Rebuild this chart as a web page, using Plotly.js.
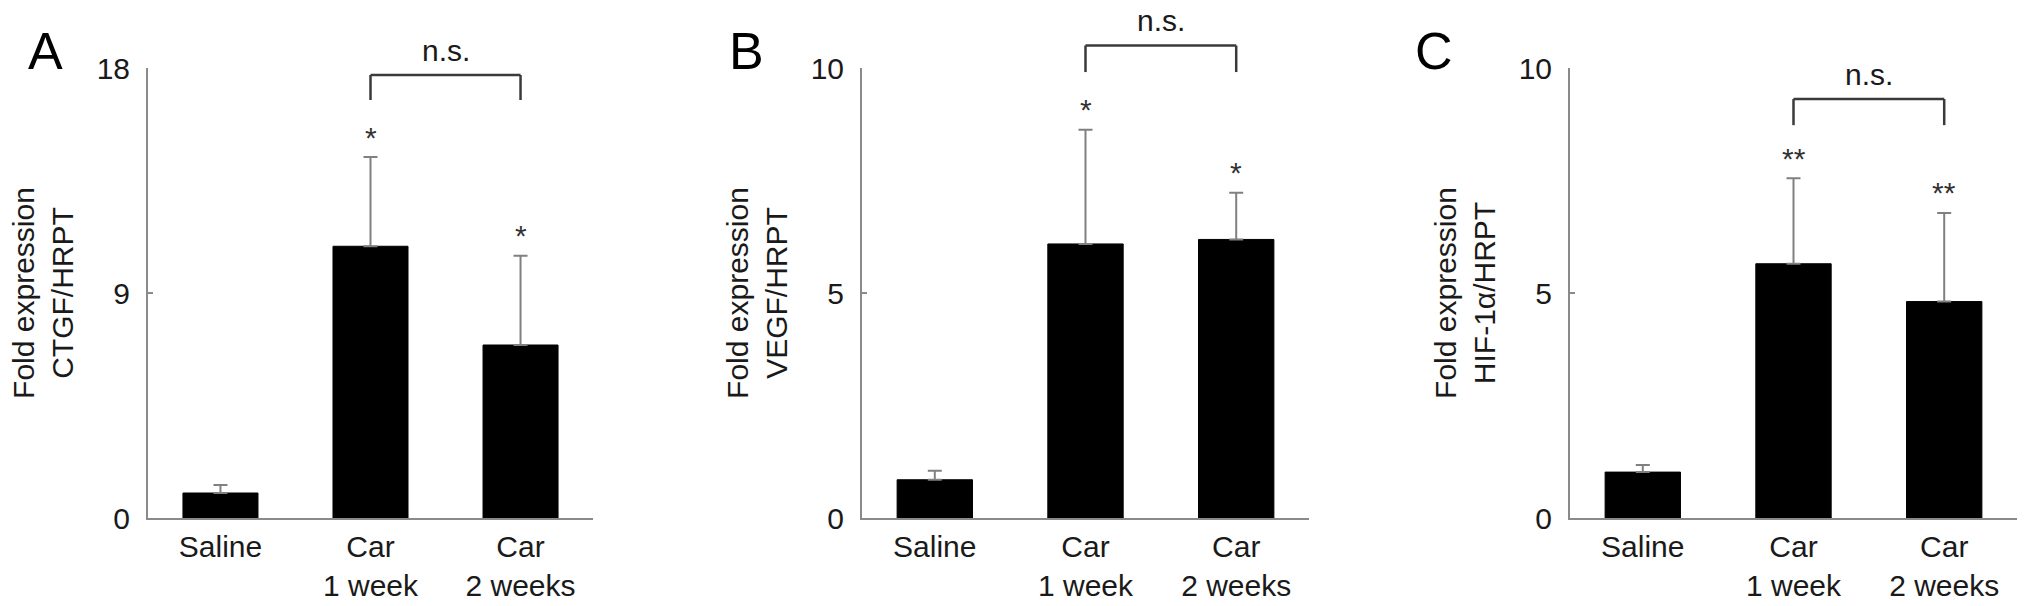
<!DOCTYPE html>
<html>
<head>
<meta charset="utf-8">
<script src="https://cdn.plot.ly/plotly-3.0.1.min.js"></script>
<style>
  html, body { margin: 0; padding: 0; background: #fff; }
  #chart { width: 2031px; height: 606px; }
</style>
</head>
<body>
<div id="chart"></div>
<script>
// groups on the x axis
var categories = ['Saline', 'Car<br>1 week', 'Car<br>2 weeks'];

// fold expression (mean) and upper error
var ctgfMean = [1.00, 10.87, 6.92];
var ctgfErr  = [0.32, 3.57, 3.57];
var vegfMean = [0.85, 6.09, 6.19];
var vegfErr  = [0.20, 2.54, 1.04];
var hifMean  = [1.02, 5.65, 4.81];
var hifErr   = [0.16, 1.90, 1.97];

// significance marks above each bar
var ctgfStars = ['', '*', '*'];
var vegfStars = ['', '*', '*'];
var hifStars  = ['', '**', '**'];

var panelLetters = ['A', 'B', 'C'];
var yTitles = ['Fold expression<br>CTGF/HRPT', 'Fold expression<br>VEGF/HRPT', 'Fold expression<br>HIF-1α/HRPT'];
var yMax = [18, 10, 10];
var yTickVals = [[0, 9, 18], [0, 5, 10], [0, 5, 10]];

// "n.s." bracket between Car 1 week and Car 2 weeks
var bracketTop = [17.72, 10.50, 9.31];
var bracketLow = [16.72, 9.91, 8.73];
var bracketLabel = 'n.s.';

var FONT = 'Liberation Sans, Arial, Helvetica, sans-serif';
var TXT = '#1a1a1a';
var AXC = '#8a8a8a';

var means = [ctgfMean, vegfMean, hifMean];
var errs = [ctgfErr, vegfErr, hifErr];
var stars = [ctgfStars, vegfStars, hifStars];

// plot areas in px (page is 2031 x 606)
var W = 2031, H = 606;
var xDomPx = [[148, 593], [862, 1309], [1570, 2017]];
var yDomPx = [68, 518];
var letterPos = [[45, 51], [746, 51], [1434, 51]];

var traces = [];
var layout = {
  width: W,
  height: H,
  margin: { l: 0, r: 0, t: 0, b: 0 },
  paper_bgcolor: '#fff',
  plot_bgcolor: '#fff',
  showlegend: false,
  bargap: 0.5,
  font: { family: FONT, size: 30, color: TXT },
  shapes: [],
  annotations: []
};

for (var i = 0; i < 3; i++) {
  var sfx = i === 0 ? '' : String(i + 1);
  var xa = 'x' + sfx, ya = 'y' + sfx;

  traces.push({
    type: 'bar',
    x: categories,
    y: means[i],
    xaxis: xa,
    yaxis: ya,
    marker: { color: '#000', line: { color: '#000', width: 1 } },
    error_y: {
      type: 'data',
      symmetric: false,
      array: errs[i],
      arrayminus: [0, 0, 0],
      color: '#808080',
      thickness: 2,
      width: 7
    },
    hoverinfo: 'x+y'
  });

  layout['xaxis' + sfx] = {
    domain: [xDomPx[i][0] / W, xDomPx[i][1] / W],
    anchor: ya,
    type: 'category',
    range: [-0.483, 2.483],
    showline: true,
    linecolor: AXC,
    linewidth: 2,
    ticks: '',
    showgrid: false,
    zeroline: false,
    ticklabelstandoff: 1,
    tickfont: { family: FONT, size: 30, color: TXT }
  };
  layout['yaxis' + sfx] = {
    domain: [(H - yDomPx[1]) / H, (H - yDomPx[0]) / H],
    anchor: xa,
    range: [0, yMax[i]],
    showline: true,
    linecolor: AXC,
    linewidth: 2,
    ticks: 'inside',
    ticklen: 5,
    tickwidth: 2,
    tickcolor: AXC,
    tickvals: yTickVals[i],
    showgrid: false,
    zeroline: false,
    ticklabelstandoff: 10,
    tickfont: { family: FONT, size: 30, color: TXT },
    title: { text: yTitles[i], standoff: 14, font: { family: FONT, size: 30, color: TXT } }
  };

  // bracket and label (y as a fraction of the axis so they may rise above the top tick)
  var yt = bracketTop[i] / yMax[i], yl = bracketLow[i] / yMax[i];
  var bl = { color: '#3a3a3a', width: 2.5 };
  layout.shapes.push(
    { type: 'line', xref: xa, yref: ya + ' domain', x0: 1, x1: 1, y0: yl, y1: yt, line: bl },
    { type: 'line', xref: xa, yref: ya + ' domain', x0: 1, x1: 2, y0: yt, y1: yt, line: bl },
    { type: 'line', xref: xa, yref: ya + ' domain', x0: 2, x1: 2, y0: yt, y1: yl, line: bl }
  );
  layout.annotations.push({
    xref: xa, yref: ya + ' domain', x: 1.5, y: yt,
    text: bracketLabel, showarrow: false, yanchor: 'bottom', yshift: 6,
    font: { family: FONT, size: 30, color: TXT }
  });

  for (var k = 0; k < categories.length; k++) {
    if (!stars[i][k]) continue;
    layout.annotations.push({
      xref: xa, yref: ya, x: k, y: means[i][k] + errs[i][k],
      text: stars[i][k], showarrow: false, yanchor: 'middle', yshift: 20,
      font: { family: FONT, size: 30, color: '#333' }
    });
  }

  layout.annotations.push({
    xref: 'paper', yref: 'paper',
    x: letterPos[i][0] / W, y: 1 - letterPos[i][1] / H,
    xanchor: 'center', yanchor: 'middle',
    text: panelLetters[i], showarrow: false,
    font: { family: FONT, size: 52, color: '#000' }
  });
}

Plotly.newPlot('chart', traces, layout, { displayModeBar: false, staticPlot: true });
</script>
</body>
</html>
